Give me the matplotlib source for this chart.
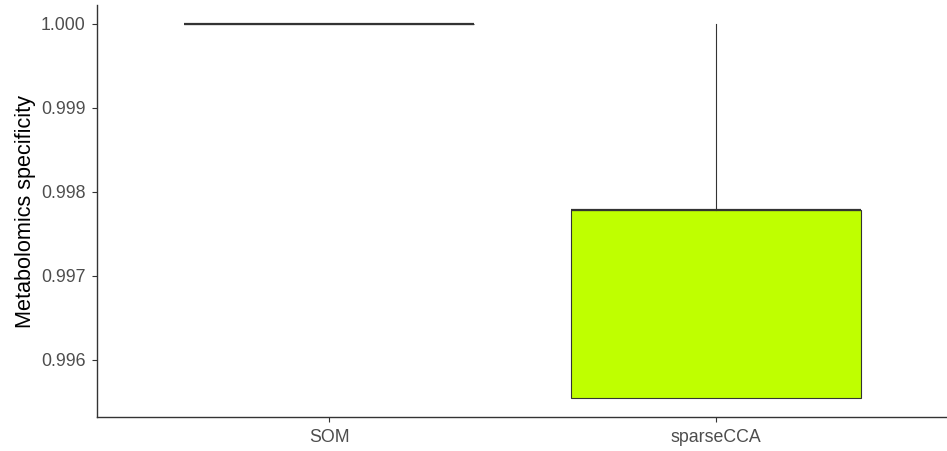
import matplotlib
matplotlib.use("Agg")
import matplotlib.pyplot as plt

plt.rcParams['font.family'] = ['Liberation Sans', 'DejaVu Sans']

categories = ["SOM", "sparseCCA"]
q1 = [1.0, 0.99555]
median = [1.0, 0.99779]
q3 = [1.0, 0.99779]
whislo = [1.0, 0.99555]
whishi = [1.0, 1.0]
fills = ["#FFFFFF", "#BFFF00"]
yticks = [0.996, 0.997, 0.998, 0.999, 1.000]
ylabel = "Metabolomics specificity"

fig = plt.figure(figsize=(9.47, 4.51), dpi=100)
ax = fig.add_axes([0.1024, 0.0754, 0.8986, 0.9135])

stats = []
for i, c in enumerate(categories):
    stats.append(dict(label=c, q1=q1[i], med=median[i], q3=q3[i],
                      whislo=whislo[i], whishi=whishi[i], fliers=[]))

bp = ax.bxp(stats, positions=[1, 2], widths=0.75, patch_artist=True,
            showcaps=False, showfliers=False,
            boxprops=dict(edgecolor="#333333", linewidth=0.8),
            medianprops=dict(color="#333333", linewidth=1.6),
            whiskerprops=dict(color="#333333", linewidth=0.8))
for patch, f in zip(bp['boxes'], fills):
    patch.set_facecolor(f)

ax.set_xlim(0.4, 2.6)
ax.set_ylim(0.995321, 1.000226)
ax.set_yticks(yticks)
ax.set_yticklabels([f"{v:.3f}" for v in yticks])
ax.set_xticks([1, 2])
ax.set_xticklabels(categories)
ax.tick_params(axis='both', colors="#333333", labelcolor="#4D4D4D",
               labelsize=12.8, length=3.5, width=0.8)
ax.tick_params(axis='y', pad=4.5)
ax.tick_params(axis='x', pad=5.5)
ax.set_ylabel(ylabel, fontsize=15.6, color="black", labelpad=4)
for s in ['top', 'right']:
    ax.spines[s].set_visible(False)
for s in ['left', 'bottom']:
    ax.spines[s].set_color("#333333")
    ax.spines[s].set_linewidth(1.0)

fig.savefig("out.png", dpi=100)
